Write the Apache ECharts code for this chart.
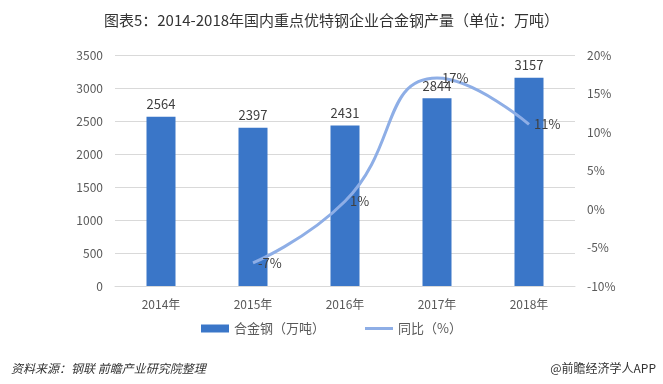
<!DOCTYPE html>
<html><head><meta charset="utf-8">
<script src="https://cdn.jsdelivr.net/npm/echarts@6/dist/echarts.min.js"></script>
<style>html,body{margin:0;padding:0;background:#fff;}#c{width:663px;height:384px;}</style>
</head><body><div id="c"></div>
<script>
const categories = ['2014年','2015年','2016年','2017年','2018年'];
const alloySteel = [2564, 2397, 2431, 2844, 3157];
const yoy = [null, -7, 1, 17, 11];
const leftTicks = [0, 500, 1000, 1500, 2000, 2500, 3000, 3500];
const rightTicks = [-10, -5, 0, 5, 10, 15, 20];

const chart = echarts.init(document.getElementById('c'));
const font = '"Microsoft YaHei","Noto Sans CJK SC",sans-serif';
chart.setOption({
  animation: false,
  textStyle: {fontFamily: font},
  title: [{
    text: '图表5：2014-2018年国内重点优特钢企业合金钢产量（单位：万吨）',
    left: 'center', top: 8,
    textStyle: {fontSize: 15, fontWeight: 'normal', color: '#333', fontFamily: font}
  }, {
    text: '资料来源：钢联 前瞻产业研究院整理',
    left: 6, top: 357,
    textStyle: {fontSize: 12, fontWeight: 'normal', fontStyle: 'italic', color: '#333', fontFamily: font}
  }, {
    text: '@前瞻经济学人APP',
    right: 2, top: 357,
    textStyle: {fontSize: 12, fontWeight: 'normal', color: '#333', fontFamily: font}
  }],
  legend: {
    bottom: 44, left: 'center', itemGap: 40,
    itemWidth: 28, itemHeight: 8,
    textStyle: {fontSize: 13, color: '#595959'},
    data: [{name: '合金钢（万吨）', icon: 'rect'}, {name: '同比（%）', icon: 'path://M0,0H28V3H0Z'}]
  },
  grid: {left: 115, right: 88, top: 55, bottom: 98},
  xAxis: {
    type: 'category', data: categories,
    axisLine: {lineStyle: {color: '#d9d9d9'}},
    axisTick: {show: false},
    axisLabel: {color: '#595959', fontSize: 12, margin: 12}
  },
  yAxis: [{
    type: 'value', min: 0, max: 3500, interval: 500,
    axisLine: {show: false}, axisTick: {show: false},
    axisLabel: {color: '#595959', fontSize: 12, margin: 12, formatter: v => String(v)},
    splitLine: {lineStyle: {color: '#d9d9d9'}}
  }, {
    type: 'value', min: -10, max: 20, interval: 5,
    axisLine: {show: false}, axisTick: {show: false},
    axisLabel: {color: '#595959', fontSize: 12, margin: 12, formatter: '{value}%'},
    splitLine: {show: false}
  }],
  series: [{
    name: '合金钢（万吨）', type: 'bar', data: alloySteel, barWidth: 29,
    itemStyle: {color: '#3a76c8'},
    label: {show: true, position: 'top', color: '#404040', fontSize: 13, distance: 6}
  }, {
    name: '同比（%）', type: 'line', yAxisIndex: 1, data: yoy, smooth: 0.5,
    symbol: 'circle', symbolSize: 0, showSymbol: true, connectNulls: false,
    lineStyle: {color: '#8eaee6', width: 3},
    itemStyle: {color: '#8eaee6'},
    label: {show: true, position: 'right', color: '#404040', fontSize: 13, formatter: '{c}%', distance: 5}
  }]
});
</script></body></html>
